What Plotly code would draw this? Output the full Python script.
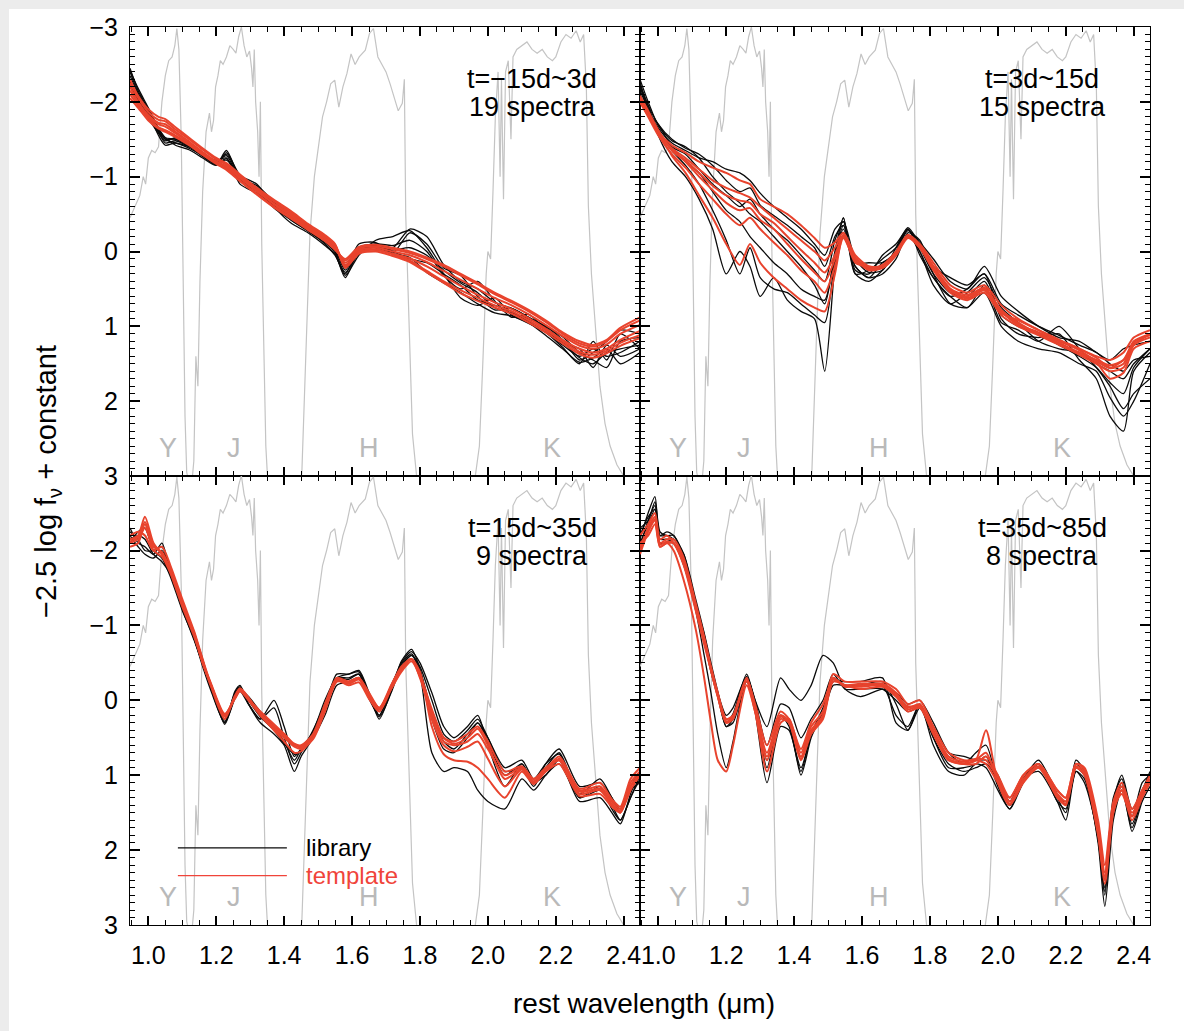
import plotly.graph_objects as go
from plotly.subplots import make_subplots

# ---------------- filter transmission curve (plotted in magnitude units) -------------
filt_wave = [0.946, 0.96, 0.975, 0.985, 0.992, 1.0, 1.01, 1.02, 1.03, 1.04, 1.05, 1.06, 1.07, 1.078, 1.084,
             1.09, 1.097, 1.103, 1.108, 1.113, 1.12,
             1.128, 1.134, 1.14, 1.146, 1.152, 1.16, 1.17, 1.18, 1.186, 1.192, 1.198, 1.205, 1.212, 1.22,
             1.23, 1.24, 1.25, 1.258, 1.266, 1.274, 1.282, 1.29, 1.298, 1.304, 1.308, 1.312, 1.316, 1.322,
             1.326, 1.33, 1.334, 1.34, 1.346, 1.352,
             1.44, 1.452, 1.465, 1.476, 1.489, 1.50, 1.513, 1.525, 1.537, 1.549, 1.561, 1.573, 1.585,
             1.597, 1.609, 1.621, 1.639, 1.651, 1.663, 1.676, 1.688, 1.70, 1.712, 1.725, 1.736, 1.748,
             1.754, 1.758, 1.766, 1.778, 1.79, 1.80,
             1.96, 1.975, 1.985, 1.995, 2.0, 2.008, 2.015, 2.022, 2.03, 2.036, 2.04, 2.046, 2.052, 2.06,
             2.068, 2.074, 2.085, 2.1, 2.115, 2.13, 2.145, 2.16, 2.175, 2.19, 2.2, 2.215, 2.23, 2.245,
             2.26, 2.272, 2.282, 2.29, 2.296, 2.305, 2.315, 2.33, 2.345, 2.36, 2.38, 2.40, 2.42, 2.448]
filt_val = [-0.45, -0.6, -0.75, -1.0, -0.9, -1.25, -1.35, -1.32, -1.4, -2.0, -2.35, -2.55, -2.6, -2.75, -2.98,
            -2.7, -1.5, 0.5, 2.2, 2.95, 3.1,
            3.1, 2.8, 1.4, 1.8, 0.4, -0.8, -1.6, -1.85, -1.6, -1.75, -2.2, -2.35, -2.55, -2.5,
            -2.6, -2.75, -2.7, -2.65, -2.87, -3.0, -2.75, -2.6, -2.68, -2.45, -2.2, -2.7, -2.0, -1.6,
            -1.0, -2.0, -0.1, 1.4, 2.6, 3.1,
            3.1, 2.97, 1.1, -0.24, -1.0, -1.35, -1.8, -2.0, -2.24, -2.29, -1.93, -2.2, -2.38,
            -2.64, -2.5, -2.6, -2.69, -2.91, -2.98, -2.6, -2.5, -2.4, -2.24, -2.06, -1.88, -1.98,
            -2.3, -0.5, 0.66, 2.44, 3.0, 3.1,
            3.1, 2.6, 1.5, 0.3, 0.0, 0.1, -0.8, -1.8, -2.4, -1.0, -2.3, -0.7, -2.4, -2.55,
            -1.5, -2.6, -2.7, -2.75, -2.8, -2.7, -2.65, -2.7, -2.6, -2.55, -2.6, -2.8, -2.9, -2.85,
            -2.95, -2.8, -2.9, -2.2, -0.6, 0.3, 0.9, 1.8, 2.3, 2.6, 2.85, 3.0, 3.1, 3.1]

band_names = ["Y", "J", "H", "K"]
band_pos = [1.058, 1.251, 1.651, 2.189]

# ---------------- panel 1 : t = -15d ~ 3d ----------------
p1_title = ["t=\u221215d~3d", "19 spectra"]
p1_wave = [0.946, 0.97, 1.0, 1.03, 1.05, 1.08, 1.12, 1.16, 1.2, 1.23, 1.27, 1.32, 1.37, 1.42, 1.47, 1.52,
           1.55, 1.58, 1.62, 1.67, 1.72, 1.77, 1.82, 1.87, 1.92, 1.97, 2.02, 2.07, 2.12, 2.17, 2.22, 2.27,
           2.31, 2.35, 2.39, 2.448]
p1_library = [
    [-2.45, -2.15, -1.9, -1.6, -1.45, -1.48, -1.4, -1.3, -1.18, -1.3, -1.0, -0.85, -0.62, -0.45, -0.3, -0.15,
     0.0, 0.3, -0.05, -0.1, -0.05, -0.3, -0.2, 0.18, 0.4, 0.5, 0.68, 0.76, 0.88, 1.02, 1.2, 1.42, 1.5, 1.35, 1.3, 1.25],
    [-2.35, -2.1, -1.85, -1.55, -1.42, -1.45, -1.38, -1.28, -1.2, -1.28, -0.95, -0.8, -0.58, -0.42, -0.27, -0.12,
     0.02, 0.35, 0.0, -0.08, 0.0, 0.1, 0.15, 0.3, 0.45, 0.65, 0.72, 0.8, 0.94, 1.08, 1.28, 1.5, 1.2, 1.45, 1.1, 1.3],
    [-2.3, -2.05, -1.8, -1.6, -1.5, -1.5, -1.42, -1.3, -1.22, -1.25, -0.9, -0.78, -0.65, -0.5, -0.34, -0.2,
     -0.05, 0.22, -0.1, -0.12, 0.02, -0.25, -0.1, 0.22, 0.32, 0.6, 0.78, 0.76, 0.88, 1.0, 1.14, 1.35, 1.45, 1.55, 1.2, 1.15],
    [-2.25, -2.0, -1.78, -1.58, -1.48, -1.52, -1.44, -1.32, -1.2, -1.22, -1.02, -0.82, -0.6, -0.47, -0.36, -0.18,
     -0.02, 0.2, -0.06, -0.05, 0.03, 0.08, 0.28, 0.42, 0.55, 0.7, 0.82, 0.86, 0.96, 1.08, 1.25, 1.4, 1.3, 1.4, 1.35, 1.2],
    [-2.4, -2.12, -1.88, -1.62, -1.5, -1.45, -1.4, -1.27, -1.16, -1.35, -0.98, -0.88, -0.66, -0.42, -0.28, -0.1,
     0.05, 0.28, 0.02, -0.1, -0.08, -0.15, 0.0, 0.32, 0.5, 0.4, 0.66, 0.88, 0.84, 1.05, 1.22, 1.3, 1.55, 1.25, 1.4, 1.3],
    [-2.28, -2.03, -1.83, -1.63, -1.52, -1.5, -1.41, -1.28, -1.17, -1.24, -0.96, -0.84, -0.63, -0.48, -0.31, -0.16,
     -0.03, 0.25, -0.03, -0.07, -0.02, -0.05, 0.05, 0.25, 0.42, 0.55, 0.75, 0.82, 0.9, 1.0, 1.18, 1.45, 1.35, 1.2, 1.05, 1.1],
    [-2.42, -2.18, -1.92, -1.65, -1.52, -1.42, -1.36, -1.25, -1.15, -1.32, -1.02, -0.9, -0.6, -0.38, -0.25, -0.08,
     0.04, 0.32, 0.05, -0.15, -0.2, -0.28, -0.05, 0.3, 0.62, 0.72, 0.62, 0.85, 0.95, 1.12, 1.3, 1.48, 1.42, 1.3, 1.5, 1.35],
]
p1_template = [
    [-2.2, -2.0, -1.82, -1.72, -1.7, -1.6, -1.47, -1.33, -1.2, -1.12, -0.98, -0.8, -0.64, -0.5, -0.33, -0.18,
     -0.06, 0.15, -0.02, -0.05, 0.0, 0.05, 0.14, 0.26, 0.38, 0.5, 0.62, 0.72, 0.84, 0.98, 1.13, 1.26, 1.3, 1.24, 1.1, 0.98],
    [-2.25, -2.05, -1.86, -1.76, -1.74, -1.63, -1.5, -1.36, -1.23, -1.16, -1.01, -0.83, -0.67, -0.52, -0.35, -0.2,
     -0.09, 0.18, 0.0, -0.02, 0.03, 0.09, 0.2, 0.33, 0.46, 0.58, 0.68, 0.77, 0.89, 1.03, 1.18, 1.3, 1.35, 1.3, 1.18, 1.06],
    [-2.1, -1.95, -1.78, -1.66, -1.62, -1.55, -1.43, -1.3, -1.18, -1.1, -0.95, -0.77, -0.6, -0.46, -0.3, -0.15,
     -0.04, 0.12, -0.04, -0.07, -0.03, 0.02, 0.1, 0.2, 0.32, 0.44, 0.57, 0.68, 0.8, 0.94, 1.1, 1.23, 1.27, 1.2, 1.05, 0.92],
    [-2.15, -1.98, -1.8, -1.7, -1.67, -1.58, -1.45, -1.32, -1.2, -1.14, -0.99, -0.82, -0.63, -0.48, -0.32, -0.17,
     -0.07, 0.2, 0.02, -0.03, 0.04, 0.12, 0.26, 0.4, 0.52, 0.62, 0.72, 0.8, 0.92, 1.05, 1.2, 1.34, 1.38, 1.33, 1.22, 1.12],
    [-2.05, -1.92, -1.75, -1.64, -1.6, -1.53, -1.42, -1.29, -1.17, -1.09, -0.94, -0.76, -0.59, -0.44, -0.29, -0.14,
     -0.02, 0.1, -0.06, -0.09, -0.05, 0.0, 0.08, 0.18, 0.3, 0.42, 0.55, 0.66, 0.78, 0.92, 1.08, 1.2, 1.25, 1.18, 1.02, 0.88],
    [-2.3, -2.08, -1.9, -1.8, -1.77, -1.66, -1.52, -1.38, -1.25, -1.18, -1.03, -0.85, -0.69, -0.54, -0.37, -0.22,
     -0.1, 0.22, 0.03, 0.0, 0.06, 0.14, 0.28, 0.42, 0.56, 0.66, 0.75, 0.83, 0.95, 1.08, 1.23, 1.37, 1.42, 1.36, 1.26, 1.16],
]

# ---------------- panel 2 : t = 3d ~ 15d ----------------
p2_title = ["t=3d~15d", "15 spectra"]
p2_wave = [0.946, 0.97, 1.0, 1.04, 1.08, 1.12, 1.16, 1.2, 1.24, 1.27, 1.3, 1.34, 1.38, 1.42, 1.46, 1.49,
           1.52, 1.545, 1.58, 1.62, 1.66, 1.70, 1.735, 1.77, 1.81, 1.86, 1.91, 1.96, 2.01, 2.06, 2.12, 2.18,
           2.24, 2.29, 2.33, 2.37, 2.40, 2.448]
p2_library = [
    [-2.25, -1.9, -1.65, -1.45, -1.35, -1.25, -1.2, -1.1, -1.05, -0.95, -0.78, -0.6, -0.45, -0.3, -0.1, 0.05,
     -0.3, -0.4, 0.1, 0.28, 0.25, -0.05, -0.32, -0.1, 0.2, 0.35, 0.45, 0.3, 0.7, 0.85, 1.0, 1.12, 1.25, 1.35, 1.5, 1.6, 1.45, 1.4],
    [-2.1, -1.85, -1.7, -1.4, -1.3, -1.1, -0.9, -0.75, -0.6, -0.7, -0.5, -0.3, -0.15, 0.05, 0.25, 0.4,
     -0.15, -0.4, 0.25, 0.3, 0.05, -0.1, -0.3, 0.05, 0.35, 0.6, 0.75, 0.45, 0.95, 1.05, 1.2, 1.0, 1.3, 1.55, 1.8, 2.1, 1.9, 1.7],
    [-2.2, -1.95, -1.55, -1.2, -1.0, -0.7, -0.3, 0.3, 0.0, 0.2, 0.6, 0.35, 0.65, 0.8, 0.9, 1.6,
     0.2, -0.45, 0.3, 0.4, 0.25, 0.0, -0.3, 0.0, 0.35, 0.6, 0.5, 0.3, 0.9, 1.1, 1.15, 1.1, 1.45, 1.7, 2.2, 2.4, 1.6, 1.35],
    [-2.15, -1.9, -1.6, -1.35, -1.15, -0.9, -0.55, -0.15, 0.3, -0.05, 0.35, 0.5, 0.55, 0.7, 0.85, 0.95,
     0.1, -0.35, 0.2, 0.35, 0.3, 0.1, -0.25, -0.15, 0.3, 0.7, 0.75, 0.55, 1.0, 1.2, 1.3, 1.35, 1.5, 1.6, 1.95, 2.2, 2.0, 1.5],
    [-2.3, -2.0, -1.68, -1.48, -1.4, -1.25, -1.0, -0.8, -0.65, -0.5, -0.4, -0.2, 0.0, 0.2, 0.45, 0.7,
     0.05, -0.3, 0.15, 0.15, 0.15, 0.0, -0.28, -0.12, 0.1, 0.4, 0.5, 0.2, 0.6, 0.8, 1.0, 1.15, 1.2, 1.35, 1.45, 1.3, 1.25, 1.2],
    [-2.2, -1.9, -1.62, -1.38, -1.2, -1.05, -0.8, -0.55, -0.4, -0.2, -0.05, 0.15, 0.3, 0.5, 0.6, 0.65,
     0.0, -0.45, 0.3, 0.25, 0.1, -0.05, -0.3, -0.05, 0.3, 0.55, 0.6, 0.4, 0.85, 1.0, 1.1, 1.25, 1.4, 1.55, 1.75, 1.9, 1.55, 1.3],
    [-2.25, -1.95, -1.7, -1.5, -1.38, -1.3, -1.15, -0.95, -0.8, -0.85, -0.62, -0.48, -0.35, -0.2, -0.05, 0.2,
     -0.2, -0.35, 0.2, 0.35, 0.15, 0.05, -0.22, 0.0, 0.45, 0.7, 0.55, 0.35, 0.75, 0.95, 1.2, 1.3, 1.35, 1.5, 1.6, 1.7, 1.5, 1.3],
]
p2_template = [
    [-2.05, -1.85, -1.6, -1.42, -1.32, -1.2, -1.12, -1.05, -0.95, -0.9, -0.7, -0.6, -0.5, -0.35, -0.18, -0.05,
     -0.12, -0.25, 0.05, 0.2, 0.22, 0.05, -0.22, -0.1, 0.15, 0.45, 0.55, 0.45, 0.72, 0.9, 1.05, 1.18, 1.3, 1.4, 1.45, 1.35, 1.15, 1.05],
    [-2.0, -1.82, -1.58, -1.38, -1.25, -1.1, -0.95, -0.85, -0.78, -0.72, -0.6, -0.45, -0.3, -0.15, 0.0, 0.12,
     -0.05, -0.22, 0.08, 0.22, 0.2, 0.02, -0.2, -0.08, 0.2, 0.5, 0.62, 0.5, 0.78, 0.95, 1.1, 1.22, 1.35, 1.45, 1.52, 1.45, 1.2, 1.1],
    [-2.08, -1.88, -1.62, -1.35, -1.2, -1.0, -0.82, -0.65, -0.55, -0.58, -0.42, -0.3, -0.1, 0.1, 0.28, 0.4,
     0.1, -0.2, 0.1, 0.25, 0.22, 0.05, -0.18, -0.05, 0.25, 0.55, 0.65, 0.55, 0.85, 1.0, 1.12, 1.25, 1.38, 1.5, 1.6, 1.55, 1.25, 1.15],
    [-2.0, -1.8, -1.55, -1.3, -1.12, -0.9, -0.7, -0.5, -0.35, -0.45, -0.3, -0.12, 0.05, 0.25, 0.4, 0.55,
     0.2, -0.18, 0.12, 0.22, 0.18, 0.0, -0.22, -0.08, 0.22, 0.52, 0.6, 0.48, 0.8, 0.98, 1.08, 1.2, 1.32, 1.48, 1.7, 1.62, 1.3, 1.2],
    [-2.05, -1.85, -1.6, -1.28, -1.05, -0.75, -0.45, -0.1, 0.18, -0.1, 0.15, 0.35, 0.5, 0.65, 0.75, 0.8,
     0.3, -0.22, 0.15, 0.2, 0.2, 0.02, -0.2, -0.05, 0.2, 0.5, 0.58, 0.5, 0.82, 0.92, 1.05, 1.18, 1.3, 1.42, 1.55, 1.45, 1.25, 1.1],
    [-2.02, -1.83, -1.6, -1.36, -1.22, -1.05, -0.88, -0.75, -0.68, -0.65, -0.5, -0.38, -0.2, -0.02, 0.15, 0.28,
     0.05, -0.21, 0.09, 0.24, 0.21, 0.03, -0.19, -0.06, 0.22, 0.52, 0.63, 0.52, 0.8, 0.97, 1.1, 1.23, 1.36, 1.47, 1.56, 1.5, 1.22, 1.12],
]

# ---------------- panel 3 : t = 15d ~ 35d ----------------
p3_title = ["t=15d~35d", "9 spectra"]
p3_wave = [0.946, 0.97, 0.99, 1.015, 1.04, 1.065, 1.10, 1.135, 1.16, 1.185, 1.225, 1.255, 1.27, 1.295, 1.33,
           1.37, 1.40, 1.43, 1.45, 1.485, 1.52, 1.555, 1.59, 1.62, 1.65, 1.68, 1.715, 1.745, 1.775, 1.80,
           1.835, 1.87, 1.90, 1.94, 1.97, 2.00, 2.05, 2.10, 2.135, 2.17, 2.21, 2.27, 2.33, 2.365, 2.39, 2.42, 2.448]
p3_library = [
    [-2.3, -2.1, -2.05, -1.95, -2.1, -1.7, -1.25, -0.85, -0.5, -0.18, 0.28, -0.08, -0.18, 0.05, 0.25, 0.1,
     0.5, 0.85, 0.7, 0.4, 0.05, -0.3, -0.3, -0.35, -0.02, 0.2, -0.15, -0.48, -0.62, -0.4, 0.15, 0.55,
     0.65, 0.45, 0.3, 0.55, 1.0, 0.85, 1.1, 0.9, 0.7, 1.25, 1.05, 1.3, 1.45, 1.15, 0.95],
    [-2.2, -2.05, -1.95, -1.9, -2.0, -1.75, -1.3, -0.9, -0.55, -0.15, 0.3, -0.02, -0.12, 0.05, 0.25, 0.0,
     0.35, 0.75, 0.65, 0.5, 0.2, -0.2, -0.25, -0.3, -0.1, 0.2, -0.2, -0.45, -0.6, -0.35, 0.7, 0.95,
     0.9, 0.95, 1.2, 1.35, 1.45, 1.05, 1.2, 1.0, 0.85, 1.3, 1.2, 1.4, 1.6, 1.3, 1.0],
    [-2.15, -2.2, -2.15, -1.95, -1.85, -1.68, -1.22, -0.8, -0.48, -0.15, 0.25, -0.1, -0.18, 0.0, 0.22, 0.4,
     0.58, 0.72, 0.68, 0.45, 0.05, -0.3, -0.28, -0.35, -0.05, 0.22, -0.1, -0.45, -0.6, -0.45, 0.0, 0.45,
     0.55, 0.4, 0.25, 0.5, 0.95, 0.9, 1.15, 0.85, 0.65, 1.15, 1.1, 1.3, 1.5, 1.2, 1.1],
    [-2.25, -2.15, -2.0, -2.0, -2.05, -1.72, -1.28, -0.82, -0.5, -0.2, 0.32, -0.05, -0.15, -0.05, 0.15, 0.35,
     0.55, 0.8, 0.65, 0.42, 0.0, -0.3, -0.35, -0.38, -0.08, 0.15, -0.18, -0.5, -0.65, -0.5, -0.1, 0.35,
     0.5, 0.35, 0.2, 0.6, 1.15, 0.85, 1.1, 1.0, 0.8, 1.35, 1.3, 1.5, 1.65, 1.25, 0.95],
    [-2.1, -2.25, -2.3, -2.0, -1.9, -1.65, -1.2, -0.82, -0.45, -0.12, 0.3, -0.12, -0.2, 0.05, 0.3, 0.45,
     0.6, 0.95, 0.75, 0.5, 0.1, -0.35, -0.35, -0.4, -0.1, 0.25, -0.12, -0.52, -0.68, -0.42, 0.25, 0.65,
     0.7, 0.5, 0.3, 0.5, 0.9, 0.8, 1.05, 0.85, 0.72, 1.3, 1.15, 1.45, 1.6, 1.3, 1.05],
]
p3_template = [
    [-2.15, -2.2, -2.45, -2.1, -1.95, -1.72, -1.28, -0.88, -0.5, -0.2, 0.22, -0.05, -0.15, -0.02, 0.18, 0.35,
     0.45, 0.6, 0.62, 0.48, 0.1, -0.28, -0.22, -0.28, -0.05, 0.12, -0.18, -0.42, -0.55, -0.35, 0.12, 0.5,
     0.58, 0.5, 0.38, 0.6, 1.05, 0.92, 1.1, 0.95, 0.78, 1.2, 1.15, 1.35, 1.45, 1.1, 0.95],
    [-2.1, -2.15, -2.3, -2.05, -1.98, -1.75, -1.3, -0.9, -0.52, -0.22, 0.18, -0.02, -0.12, 0.0, 0.2, 0.38,
     0.5, 0.62, 0.65, 0.52, 0.15, -0.25, -0.25, -0.3, -0.08, 0.1, -0.2, -0.45, -0.55, -0.3, 0.2, 0.55,
     0.6, 0.55, 0.45, 0.65, 1.0, 0.9, 1.05, 0.9, 0.8, 1.25, 1.2, 1.4, 1.5, 1.2, 1.0],
    [-2.2, -2.25, -2.2, -2.0, -2.05, -1.8, -1.35, -0.92, -0.55, -0.2, 0.2, -0.04, -0.14, -0.02, 0.15, 0.32,
     0.45, 0.58, 0.6, 0.45, 0.05, -0.3, -0.25, -0.3, -0.1, 0.1, -0.15, -0.4, -0.55, -0.38, 0.35, 0.72,
     0.8, 0.82, 0.9, 1.05, 1.3, 0.95, 1.12, 0.95, 0.85, 1.28, 1.25, 1.42, 1.5, 1.15, 1.0],
    [-2.05, -2.1, -2.35, -2.0, -1.92, -1.7, -1.25, -0.85, -0.5, -0.18, 0.25, -0.06, -0.16, -0.04, 0.2, 0.4,
     0.55, 0.7, 0.68, 0.5, 0.12, -0.26, -0.2, -0.24, -0.02, 0.15, -0.15, -0.38, -0.52, -0.32, 0.15, 0.5,
     0.55, 0.45, 0.35, 0.55, 0.95, 0.88, 1.05, 0.92, 0.75, 1.18, 1.1, 1.32, 1.42, 1.05, 0.9],
    [-2.12, -2.18, -2.38, -2.08, -1.96, -1.74, -1.3, -0.88, -0.5, -0.2, 0.2, -0.04, -0.14, -0.02, 0.18, 0.36,
     0.48, 0.6, 0.63, 0.5, 0.12, -0.27, -0.23, -0.28, -0.06, 0.11, -0.18, -0.43, -0.55, -0.33, 0.25, 0.6,
     0.68, 0.62, 0.55, 0.78, 1.15, 0.92, 1.08, 0.93, 0.8, 1.22, 1.18, 1.38, 1.48, 1.15, 0.98],
]

# ---------------- panel 4 : t = 35d ~ 85d ----------------
p4_title = ["t=35d~85d", "8 spectra"]
p4_wave = [0.946, 0.97, 0.99, 1.005, 1.025, 1.045, 1.075, 1.11, 1.135, 1.155, 1.175, 1.20, 1.22, 1.26, 1.285,
           1.32, 1.36, 1.385, 1.42, 1.45, 1.485, 1.515, 1.55, 1.595, 1.66, 1.70, 1.735, 1.77, 1.81, 1.855,
           1.90, 1.935, 1.965, 2.0, 2.035, 2.075, 2.12, 2.175, 2.20, 2.23, 2.255, 2.295, 2.315, 2.34, 2.365,
           2.395, 2.425, 2.448]
p4_library = [
    [-2.15, -2.5, -2.72, -2.2, -2.2, -2.15, -1.95, -1.35, -0.9, -0.5, -0.12, 0.3, 0.18, -0.35, 0.05, 0.9,
     0.2, 0.3, 1.0, 0.5, 0.15, -0.3, -0.2, -0.2, -0.2, 0.2, 0.35, 0.05, 0.5, 0.9, 0.9, 0.85, 0.75, 1.15,
     1.45, 1.1, 0.85, 1.3, 1.5, 0.85, 1.0, 1.9, 2.75, 1.6, 1.2, 1.7, 1.3, 1.1],
    [-2.05, -2.4, -2.6, -2.2, -2.25, -2.2, -1.95, -1.3, -0.88, -0.45, -0.08, 0.35, 0.25, -0.3, 0.0, 0.35,
     -0.3, -0.15, 0.0, -0.2, -0.6, -0.5, -0.15, -0.05, -0.15, -0.1, 0.05, 0.0, 0.3, 0.7, 0.85, 0.7, 0.6, 1.1,
     1.4, 1.05, 0.8, 1.25, 1.4, 0.8, 0.95, 1.85, 2.6, 1.35, 1.0, 1.45, 1.2, 0.95],
    [-2.2, -2.45, -2.55, -2.15, -2.15, -2.1, -1.8, -1.2, -0.6, -0.1, 0.45, 0.9, 0.55, -0.3, 0.15, 1.1,
     0.35, 0.4, 0.9, 0.45, 0.1, -0.25, -0.25, -0.25, -0.3, 0.3, 0.4, 0.05, 0.6, 0.95, 1.0, 0.85, 0.9, 1.2,
     1.45, 1.05, 0.95, 1.35, 1.6, 0.95, 1.05, 1.85, 2.5, 1.5, 1.1, 1.75, 1.35, 1.15],
    [-2.3, -2.4, -2.65, -2.25, -2.2, -2.2, -1.9, -1.3, -0.85, -0.42, -0.1, 0.2, 0.1, -0.32, 0.0, 0.6,
     0.05, 0.1, 0.5, 0.25, 0.0, -0.35, -0.15, -0.15, -0.15, 0.0, 0.15, 0.1, 0.35, 0.7, 0.75, 0.8, 0.8, 1.0,
     1.35, 1.0, 0.85, 1.3, 1.35, 0.9, 1.0, 1.75, 2.4, 1.3, 1.05, 1.55, 1.1, 1.0],
    [-2.1, -2.35, -2.55, -2.1, -2.1, -2.1, -1.85, -1.25, -0.8, -0.38, -0.05, 0.35, 0.3, -0.25, 0.1, 0.8,
     0.2, 0.35, 0.95, 0.45, 0.2, -0.2, -0.2, -0.2, -0.25, 0.05, 0.4, 0.1, 0.5, 0.85, 0.95, 0.9, 0.85, 1.05,
     1.4, 1.05, 0.85, 1.35, 1.45, 0.95, 1.1, 1.8, 2.55, 1.4, 1.15, 1.65, 1.25, 1.05],
]
p4_template = [
    [-2.0, -2.3, -2.45, -2.1, -2.15, -2.15, -1.9, -1.3, -0.85, -0.45, -0.1, 0.25, 0.2, -0.3, 0.1, 0.7,
     0.2, 0.28, 0.75, 0.4, 0.2, -0.3, -0.18, -0.2, -0.22, -0.1, 0.1, 0.05, 0.4, 0.75, 0.82, 0.78, 0.8, 1.05,
     1.35, 1.05, 0.88, 1.25, 1.35, 0.88, 0.95, 1.7, 2.3, 1.4, 1.15, 1.5, 1.25, 1.05],
    [-2.1, -2.2, -2.35, -2.05, -2.1, -2.1, -1.85, -1.25, -0.8, -0.4, -0.05, 0.3, 0.22, -0.25, 0.15, 0.8,
     0.25, 0.3, 0.8, 0.45, 0.25, -0.25, -0.2, -0.15, -0.18, -0.05, 0.15, 0.1, 0.45, 0.8, 0.85, 0.8, 0.4, 1.1,
     1.4, 1.1, 0.9, 1.3, 1.4, 0.9, 1.0, 1.8, 2.45, 1.5, 1.2, 1.6, 1.3, 1.1],
    [-1.95, -2.25, -2.4, -2.05, -2.1, -2.0, -1.6, -0.95, -0.3, 0.3, 0.8, 0.95, 0.6, -0.2, 0.15, 0.95,
     0.3, 0.25, 0.7, 0.35, 0.15, -0.35, -0.25, -0.25, -0.25, -0.15, 0.05, 0.0, 0.35, 0.7, 0.8, 0.8, 0.85, 1.1,
     1.3, 1.0, 0.85, 1.2, 1.3, 0.85, 0.9, 1.6, 2.2, 1.35, 1.1, 1.45, 1.2, 1.0],
    [-2.2, -2.35, -2.5, -2.15, -2.2, -2.1, -1.8, -1.2, -0.75, -0.4, -0.05, 0.3, 0.25, -0.28, 0.05, 0.6,
     0.15, 0.25, 0.65, 0.3, 0.05, -0.28, -0.2, -0.22, -0.2, -0.05, 0.08, 0.08, 0.45, 0.8, 0.85, 0.85, 0.75, 1.0,
     1.3, 1.0, 0.85, 1.2, 1.3, 0.85, 0.92, 1.75, 2.35, 1.45, 1.25, 1.55, 1.2, 1.05],
    [-2.05, -2.28, -2.42, -2.08, -2.12, -2.1, -1.85, -1.25, -0.82, -0.42, -0.08, 0.28, 0.22, -0.28, 0.12, 0.75,
     0.22, 0.28, 0.78, 0.42, 0.22, -0.28, -0.2, -0.18, -0.2, -0.08, 0.12, 0.08, 0.42, 0.78, 0.84, 0.8, 0.7, 1.08,
     1.38, 1.08, 0.9, 1.28, 1.38, 0.9, 0.98, 1.75, 2.4, 1.45, 1.2, 1.55, 1.28, 1.08],
]

legend_labels = ["library", "template"]

# ---------------- styles ----------------
FONT = "Liberation Sans, Arial, Helvetica, sans-serif"
BLACK = "#0a0a0a"
RED = "#e8432d"
GRAY = "#c4c4c4"
BAND_GRAY = "#b9b9b9"
XR = [0.946, 2.448]
W, H = 1184, 1031
ML, MR, MT, MB = 130, 34, 27, 106

fig = make_subplots(rows=2, cols=2, horizontal_spacing=0, vertical_spacing=0)

panels = [
    (1, 1, p1_wave, p1_library, p1_template, p1_title),
    (1, 2, p2_wave, p2_library, p2_template, p2_title),
    (2, 1, p3_wave, p3_library, p3_template, p3_title),
    (2, 2, p4_wave, p4_library, p4_template, p4_title),
]

for idx, (r, c, wave, lib, tpl, title) in enumerate(panels):
    fig.add_trace(go.Scatter(x=filt_wave, y=filt_val, mode="lines",
                             line=dict(color=GRAY, width=1.2), hoverinfo="skip", showlegend=False),
                  row=r, col=c)
    for s in lib:
        fig.add_trace(go.Scatter(x=wave, y=s, mode="lines",
                                 line=dict(color=BLACK, width=1.3, shape="spline", smoothing=0.7),
                                 hoverinfo="skip", showlegend=False), row=r, col=c)
    for s in tpl:
        fig.add_trace(go.Scatter(x=wave, y=s, mode="lines",
                                 line=dict(color=RED, width=2.0, shape="spline", smoothing=0.7),
                                 hoverinfo="skip", showlegend=False), row=r, col=c)
    axn = "" if idx == 0 else str(idx + 1)
    fig.add_annotation(x=2.13, y=-2.3, xref="x" + axn, yref="y" + axn, text=title[0], showarrow=False,
                       xanchor="center", yanchor="middle", font=dict(family=FONT, size=27, color="black"))
    fig.add_annotation(x=2.13, y=-1.93, xref="x" + axn, yref="y" + axn, text=title[1], showarrow=False,
                       xanchor="center", yanchor="middle", font=dict(family=FONT, size=27, color="black"))
    for name, pos in zip(band_names, band_pos):
        fig.add_annotation(x=pos, y=2.63, xref="x" + axn, yref="y" + axn, text=name, showarrow=False,
                           xanchor="center", yanchor="middle", font=dict(family=FONT, size=27, color=BAND_GRAY))

# legend drawn in the lower-left panel
fig.add_shape(type="line", xref="x3", yref="y3", x0=1.087, x1=1.408, y0=1.97, y1=1.97,
              line=dict(color=BLACK, width=1.2))
fig.add_shape(type="line", xref="x3", yref="y3", x0=1.087, x1=1.408, y0=2.34, y1=2.34,
              line=dict(color="#f0443a", width=1.2))
fig.add_annotation(x=1.458, y=1.97, xref="x3", yref="y3", text=legend_labels[0], showarrow=False,
                   xanchor="left", yanchor="middle", font=dict(family=FONT, size=24, color="black"))
fig.add_annotation(x=1.458, y=2.34, xref="x3", yref="y3", text=legend_labels[1], showarrow=False,
                   xanchor="left", yanchor="middle", font=dict(family=FONT, size=24, color="#f0443a"))

# axes
common = dict(showline=True, linecolor="black", linewidth=1.2, mirror="allticks", ticks="inside",
              tickcolor="black", tickwidth=1.5, showgrid=False, zeroline=False,
              tickfont=dict(family=FONT, size=25, color="black"))
for r in (1, 2):
    for c in (1, 2):
        fig.update_xaxes(range=XR, tick0=1.0, dtick=0.2, tickformat=".1f", ticklen=9,
                         minor=dict(ticks="inside", ticklen=5, dtick=0.05, tick0=1.0,
                                    tickcolor="black", tickwidth=1.2),
                         showticklabels=(r == 2), ticklabelstandoff=8, row=r, col=c, **common)
        yr = [3.0, -3.0] if r == 1 else [3.0, -2.995]
        fig.update_yaxes(range=yr, tick0=0, dtick=1, ticklen=10,
                         minor=dict(ticks="inside", ticklen=5, dtick=0.1, tick0=0,
                                    tickcolor="black", tickwidth=1.2),
                         showticklabels=(c == 1), ticklabelstandoff=6, row=r, col=c, **common)

# axis titles
fig.add_annotation(xref="paper", yref="paper", x=(48 - ML) / (W - ML - MR), y=(H - MB - 482) / (H - MT - MB),
                   text="\u22122.5 log f<sub>\u03bd</sub> + constant", textangle=-90, showarrow=False,
                   xanchor="center", yanchor="middle", font=dict(family=FONT, size=29, color="black"))
fig.add_annotation(xref="paper", yref="paper", x=(644 - ML) / (W - ML - MR), y=(H - MB - 1003) / (H - MT - MB),
                   text="rest wavelength (\u03bcm)", showarrow=False,
                   xanchor="center", yanchor="middle", font=dict(family=FONT, size=28, color="black"))

# page frame (white card on light-grey background)
pw, ph = W - ML - MR, H - MT - MB
fig.add_shape(type="rect", xref="paper", yref="paper", layer="below",
              x0=(9 - ML) / pw, x1=(W + 20 - ML) / pw, y0=(H - MB - (H + 20)) / ph, y1=(H - MB - 9) / ph,
              fillcolor="white", line=dict(width=0))

fig.update_layout(width=W, height=H, margin=dict(l=ML, r=MR, t=MT, b=MB),
                  paper_bgcolor="#ececec", plot_bgcolor="white", showlegend=False,
                  font=dict(family=FONT, color="black"))

fig.write_html("out.html")
